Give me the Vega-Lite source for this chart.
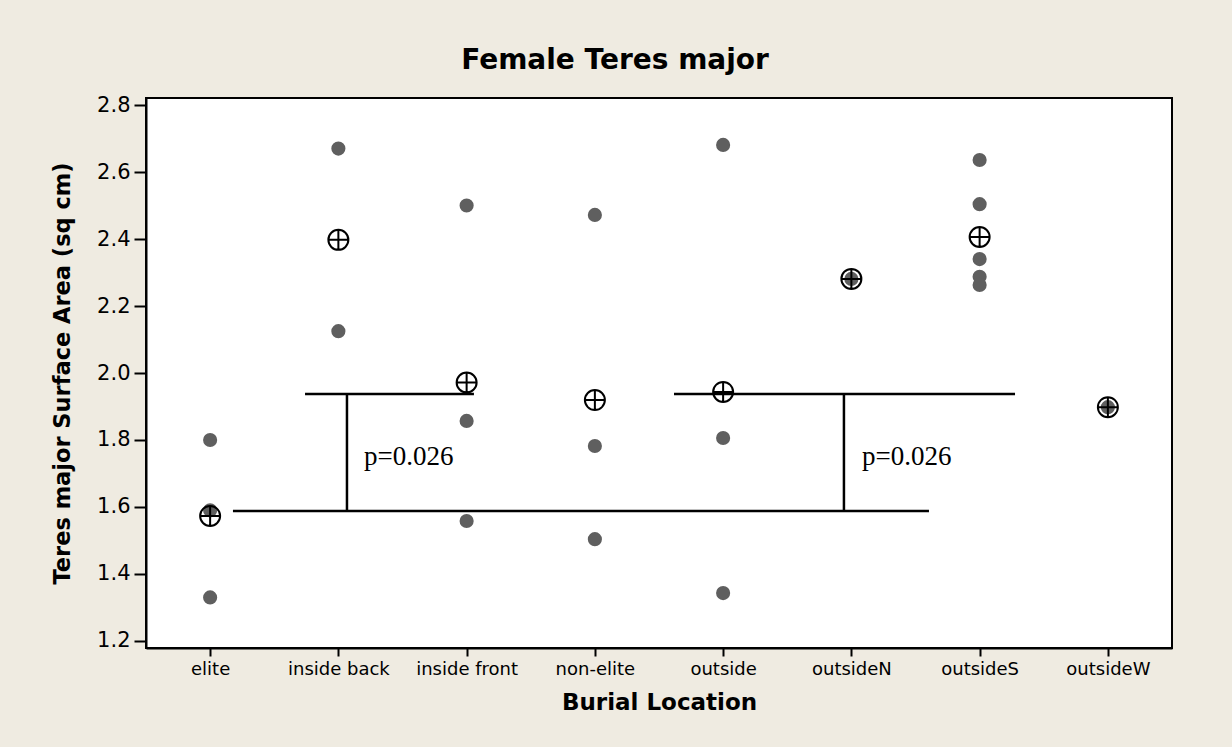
{
  "$schema": "https://vega.github.io/schema/vega-lite/v6.json",
  "autosize": {"type": "none"},
  "width": 1026,
  "height": 550,
  "padding": {"left": 146, "top": 98, "right": 60, "bottom": 99},
  "background": "#efebe1",
  "title": {
    "text": "Female Teres major",
    "font": "DejaVu Sans",
    "fontSize": 28,
    "fontWeight": "bold",
    "color": "black",
    "anchor": "middle",
    "dx": -44,
    "baseline": "alphabetic",
    "offset": -3
  },
  "config": {
    "view": {"fill": "white", "stroke": "black", "strokeWidth": 2},
    "axis": {
      "grid": false,
      "domainColor": "black",
      "domainWidth": 2,
      "tickColor": "black",
      "tickWidth": 2,
      "labelColor": "black",
      "titleColor": "black",
      "labelFont": "DejaVu Sans",
      "titleFont": "DejaVu Sans",
      "titleFontWeight": "bold"
    },
    "axisX": {"labelFontSize": 18, "tickSize": 8, "labelPadding": 4, "labelAngle": 0, "titleFontSize": 23, "titlePadding": 13},
    "axisY": {"labelFontSize": 21, "tickSize": 12, "labelPadding": 4, "titleFontSize": 22.5, "titlePadding": 22}
  },
  "datasets": {
    "obs": [
      {"location": "elite", "area": 1.80},
      {"location": "elite", "area": 1.59},
      {"location": "elite", "area": 1.33},
      {"location": "inside back", "area": 2.67},
      {"location": "inside back", "area": 2.125},
      {"location": "inside front", "area": 2.50},
      {"location": "inside front", "area": 1.857},
      {"location": "inside front", "area": 1.558},
      {"location": "non-elite", "area": 2.472},
      {"location": "non-elite", "area": 1.782},
      {"location": "non-elite", "area": 1.504},
      {"location": "outside", "area": 2.681},
      {"location": "outside", "area": 1.806},
      {"location": "outside", "area": 1.343},
      {"location": "outsideN", "area": 2.281},
      {"location": "outsideS", "area": 2.636},
      {"location": "outsideS", "area": 2.504},
      {"location": "outsideS", "area": 2.34},
      {"location": "outsideS", "area": 2.287},
      {"location": "outsideS", "area": 2.263},
      {"location": "outsideW", "area": 1.898}
    ],
    "lines": [
      {"x": 0.74, "x2": 2.057, "y": 1.937, "y2": 1.937},
      {"x": 1.067, "x2": 1.067, "y": 1.937, "y2": 1.588},
      {"x": 0.178, "x2": 5.605, "y": 1.588, "y2": 1.588},
      {"x": 3.617, "x2": 6.276, "y": 1.937, "y2": 1.937},
      {"x": 4.942, "x2": 4.942, "y": 1.937, "y2": 1.588}
    ],
    "labels": [
      {"x": 1.2, "y": 1.725, "label": "p=0.026"},
      {"x": 5.083, "y": 1.725, "label": "p=0.026"}
    ]
  },
  "layer": [
    {
      "data": {"name": "obs"},
      "mark": {"type": "point", "shape": "circle", "filled": true, "size": 200, "color": "#5f5f5f", "opacity": 1},
      "encoding": {
        "x": {"field": "location", "type": "nominal", "sort": ["elite", "inside back", "inside front", "non-elite", "outside", "outsideN", "outsideS", "outsideW"], "title": "Burial Location"},
        "y": {"field": "area", "type": "quantitative", "scale": {"domain": [1.179, 2.821], "nice": false, "zero": false}, "axis": {"values": [1.2, 1.4, 1.6, 1.8, 2.0, 2.2, 2.4, 2.6, 2.8], "format": ".1f"}, "title": "Teres major Surface Area (sq cm)"}
      }
    },
    {
      "data": {"name": "obs"},
      "mark": {"type": "point", "shape": "M -1 0 A 1 1 0 1 0 1 0 A 1 1 0 1 0 -1 0 M -1 0 L 1 0 M 0 -1 L 0 1", "filled": false, "size": 400, "stroke": "black", "strokeWidth": 2, "opacity": 1},
      "encoding": {
        "x": {"field": "location", "type": "nominal", "sort": ["elite", "inside back", "inside front", "non-elite", "outside", "outsideN", "outsideS", "outsideW"], "axis": null},
        "y": {"aggregate": "mean", "field": "area", "type": "quantitative", "scale": {"domain": [1.179, 2.821], "nice": false, "zero": false}, "title": "Teres major Surface Area (sq cm)"}
      }
    },
    {
      "data": {"name": "lines"},
      "mark": {"type": "rule", "color": "black", "strokeWidth": 2.5},
      "encoding": {
        "x": {"field": "x", "type": "quantitative", "scale": {"domain": [-0.5, 7.5], "nice": false, "zero": false}, "axis": null},
        "x2": {"field": "x2"},
        "y": {"field": "y", "type": "quantitative", "scale": {"domain": [1.179, 2.821], "nice": false, "zero": false}, "title": "Teres major Surface Area (sq cm)"},
        "y2": {"field": "y2"}
      }
    },
    {
      "data": {"name": "labels"},
      "mark": {"type": "text", "font": "Liberation Serif", "fontSize": 27, "align": "left", "baseline": "alphabetic", "color": "black"},
      "encoding": {
        "x": {"field": "x", "type": "quantitative", "scale": {"domain": [-0.5, 7.5], "nice": false, "zero": false}, "axis": null},
        "y": {"field": "y", "type": "quantitative", "scale": {"domain": [1.179, 2.821], "nice": false, "zero": false}, "title": "Teres major Surface Area (sq cm)"},
        "text": {"field": "label"}
      }
    }
  ],
  "resolve": {"scale": {"x": "independent"}}
}
